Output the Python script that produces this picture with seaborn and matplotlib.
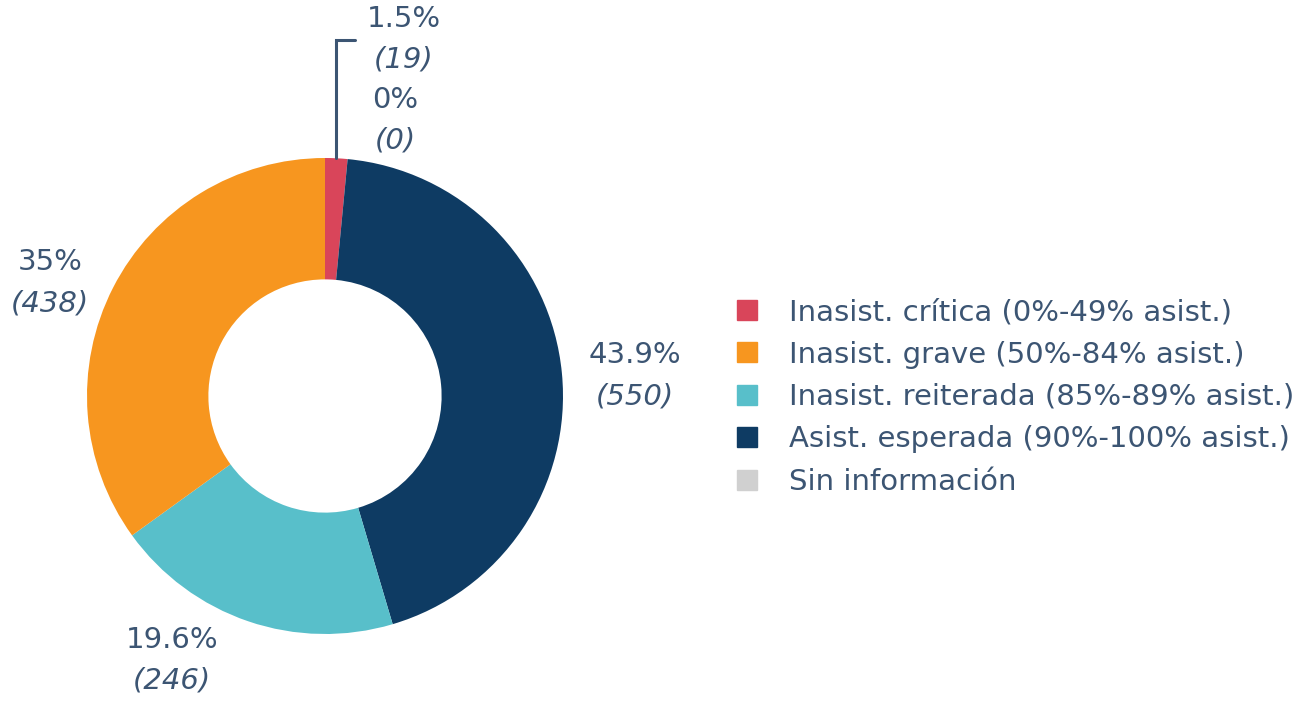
import matplotlib.pyplot as plt
import matplotlib.patches as mpatches
import seaborn as sns
import numpy as np

sns.set_theme(style="white")
plt.rcParams['font.family'] = ['DejaVu Sans']

# datos (orden de dibujo, sentido horario desde arriba)
categorias = ['Inasist. crítica (0%-49% asist.)',
              'Asist. esperada (90%-100% asist.)',
              'Inasist. reiterada (85%-89% asist.)',
              'Inasist. grave (50%-84% asist.)',
              'Sin información']
cantidades = [19, 550, 246, 438, 0]
porcentajes = ['1.5%', '43.9%', '19.6%', '35%', '0%']
colores = ['#d9455a', '#0e3b63', '#58bfca', '#f7961f', '#d0d0d0']

# orden de la leyenda
orden_leyenda = [0, 3, 2, 1, 4]

texto_color = '#3c5573'

# posiciones de las etiquetas (centro del porcentaje, en radios)
pos_etiquetas = [(0.33, 1.585), (1.303, 0.172), (-0.643, -1.025),
                 (-1.155, 0.563), (0.294, 1.244)]

fig = plt.figure(figsize=(12.94, 7.07), dpi=100)
W, H = 1294, 707
cx, cy, R = 325, 396, 238
lim = 300 / R
ax = fig.add_axes([(cx - 300) / W, (H - cy - 300) / H, 600 / W, 600 / H])

wedges, _ = ax.pie(cantidades, colors=colores, startangle=90, counterclock=False,
                   radius=1.0, wedgeprops=dict(width=0.51, linewidth=0))
ax.set_xlim(-lim, lim)
ax.set_ylim(-lim, lim)
ax.set_aspect('equal')
ax.axis('off')

gap = 41 / R
for i, (x, y) in enumerate(pos_etiquetas):
    ax.text(x, y, porcentajes[i], ha='center', va='center', fontsize=21, color=texto_color)
    ax.text(x, y - gap, f'({cantidades[i]})', ha='center', va='center', fontsize=21,
            color=texto_color, style='italic')

# linea guia de la categoria critica
w = wedges[0]
ang = np.deg2rad((w.theta1 + w.theta2) / 2)
x0 = np.cos(ang)
ax.plot([x0, x0, 0.125], [np.sin(ang), 1.495, 1.495], color=texto_color, lw=2.2,
        solid_joinstyle='miter', clip_on=False)

handles = [mpatches.Patch(color=colores[i], label=categorias[i]) for i in orden_leyenda]
fig.legend(handles=handles, loc='center left', bbox_to_anchor=(737 / W, 1 - 397 / H),
           frameon=False, fontsize=21, labelcolor=texto_color, handlelength=0.685,
           handleheight=0.685, handletextpad=1.1, labelspacing=0.495, borderpad=0,
           borderaxespad=0)

fig.savefig('out.png', dpi=100, facecolor='white')
